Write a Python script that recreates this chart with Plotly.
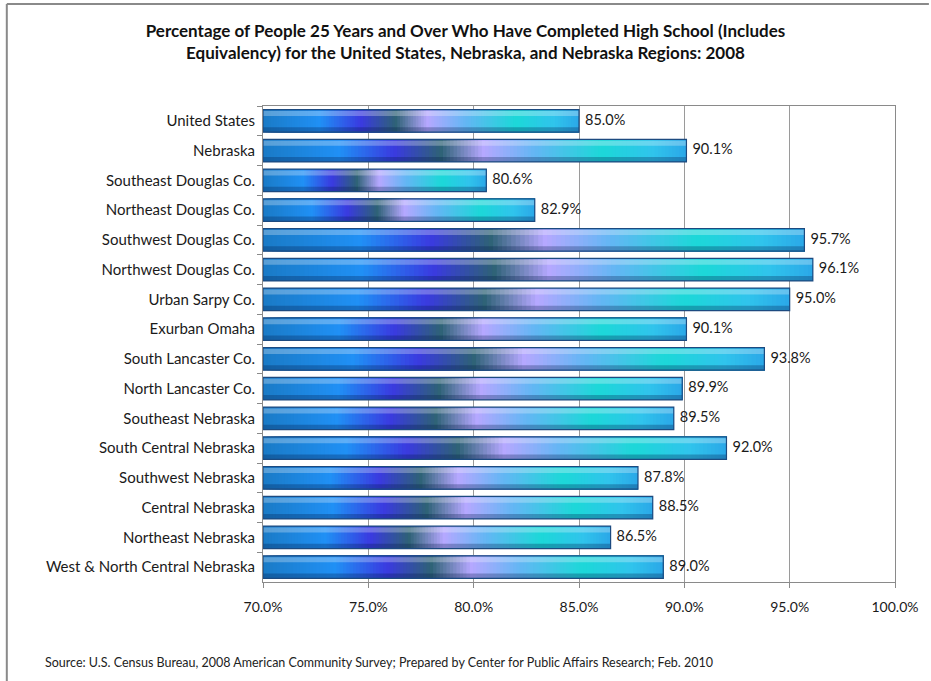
import plotly.graph_objects as go
from plotly.colors import sample_colorscale

categories = [
    "United States", "Nebraska", "Southeast Douglas Co.", "Northeast Douglas Co.",
    "Southwest Douglas Co.", "Northwest Douglas Co.", "Urban Sarpy Co.", "Exurban Omaha",
    "South Lancaster Co.", "North Lancaster Co.", "Southeast Nebraska",
    "South Central Nebraska", "Southwest Nebraska", "Central Nebraska",
    "Northeast Nebraska", "West & North Central Nebraska",
]
values = [85.0, 90.1, 80.6, 82.9, 95.7, 96.1, 95.0, 90.1, 93.8, 89.9, 89.5, 92.0,
          87.8, 88.5, 86.5, 89.0]
labels = [f"{v:.1f}%" for v in values]
tick_vals = [70, 75, 80, 85, 90, 95, 100]
tick_text = ["70.0%", "75.0%", "80.0%", "85.0%", "90.0%", "95.0%", "100.0%"]
axis_min = 70

title_text = ("<b>Percentage of People 25 Years and Over Who Have Completed High School (Includes<br>"
              "Equivalency) for the United States, Nebraska, and Nebraska Regions: 2008</b>")
source_text = ("Source: U.S. Census Bureau, 2008 American Community Survey; Prepared by Center for "
               "Public Affairs Research; Feb. 2010")

# gradient along bar length (style)
gradient = [
    [0.00, "#1a7ac6"], [0.18, "#2090f5"], [0.31, "#3a3ae0"], [0.42, "#2e6276"],
    [0.52, "#b6a8ff"], [0.64, "#64b6f4"], [0.80, "#1cd8d8"], [0.92, "#30c4ec"],
    [1.00, "#2ba8e8"],
]
N = 120
colors = sample_colorscale(gradient, [(k + 0.5) / N for k in range(N)])

BW = 0.76
fig = go.Figure()
# overlaid bars, each running from its gradient start to the bar end
for k in range(N):
    base = [axis_min + k * (v - axis_min) / N for v in values]
    length = [v - b for v, b in zip(values, base)]
    fig.add_trace(go.Bar(
        y=categories, x=length, base=base, orientation="h", width=BW,
        marker=dict(color=colors[k], line=dict(width=0)),
        hoverinfo="skip", showlegend=False,
    ))

span = [v - axis_min for v in values]
# top highlight
fig.add_trace(go.Bar(y=categories, x=span, base=axis_min, orientation="h",
                     width=BW * 0.22, offset=-BW / 2 + 0.05,
                     marker=dict(color="rgba(255,255,255,0.28)", line=dict(width=0)),
                     hoverinfo="skip", showlegend=False))
# bottom shade
fig.add_trace(go.Bar(y=categories, x=span, base=axis_min, orientation="h",
                     width=BW * 0.22, offset=BW / 2 - BW * 0.22,
                     marker=dict(color="rgba(0,20,70,0.28)", line=dict(width=0)),
                     hoverinfo="skip", showlegend=False))
# outline
fig.add_trace(go.Bar(y=categories, x=span, base=axis_min, orientation="h", width=BW,
                     marker=dict(color="rgba(0,0,0,0)", line=dict(width=1.2, color="#1c4a80")),
                     hoverinfo="skip", showlegend=False))
# value labels
fig.add_trace(go.Scatter(y=categories, x=values, mode="markers+text", text=labels,
                         textposition="middle right", cliponaxis=False,
                         marker=dict(size=8, opacity=0),
                         textfont=dict(size=14.5, color="#1a1a1a", family="Lato"),
                         hoverinfo="skip", showlegend=False))

fig.update_layout(
    width=931, height=681,
    barmode="overlay",
    paper_bgcolor="white", plot_bgcolor="white",
    margin=dict(l=263, r=34, t=106, b=99),
    font=dict(family="Lato", color="#1a1a1a"),
    title=dict(text=title_text, x=0.5, xref="container", xanchor="center",
               y=1 - 37 / 681, yref="container", yanchor="top",
               font=dict(size=17, family="Lato", color="#111")),
    xaxis=dict(range=[70, 100], tickvals=tick_vals, ticktext=tick_text,
               showgrid=True, gridcolor="#9a9a9a", gridwidth=1,
               showline=True, linecolor="#8a8a8a", linewidth=1, mirror=True,
               ticks="outside", ticklen=5, tickcolor="#8a8a8a",
               tickfont=dict(size=14, color="#1a1a1a"), zeroline=False,
               ticklabelstandoff=7),
    yaxis=dict(range=[len(categories) - 0.5, -0.5], type="category",
               categoryorder="array", categoryarray=categories,
               showline=True, linecolor="#8a8a8a", linewidth=1, mirror=True,
               ticks="outside", ticklen=5, tickcolor="#8a8a8a", tickson="boundaries",
               tickfont=dict(size=15, color="#1a1a1a"), showgrid=False,
               ticklabelstandoff=4),
    bargap=0.24,
    shapes=[
        dict(type="line", xref="paper", yref="paper",
             x0=(6 - 263) / 634, x1=(931 - 263) / 634,
             y0=1 + (106 - 4) / 476, y1=1 + (106 - 4) / 476,
             line=dict(color="#8a8a8a", width=2)),
        dict(type="line", xref="paper", yref="paper",
             x0=(6 - 263) / 634, x1=(6 - 263) / 634,
             y0=1 + (106 - 4) / 476, y1=(582 - 681) / 476,
             line=dict(color="#8a8a8a", width=2)),
    ],
    annotations=[
        dict(text=source_text, xref="paper", yref="paper",
             x=(42 - 263) / 634, y=(582 - 662) / 476, xanchor="left", yanchor="middle",
             showarrow=False, font=dict(size=12.5, color="#222", family="Lato")),
    ],
)

fig.write_html("out.html", config={"displayModeBar": False},
               post_script="document.body.style.margin='0';")
